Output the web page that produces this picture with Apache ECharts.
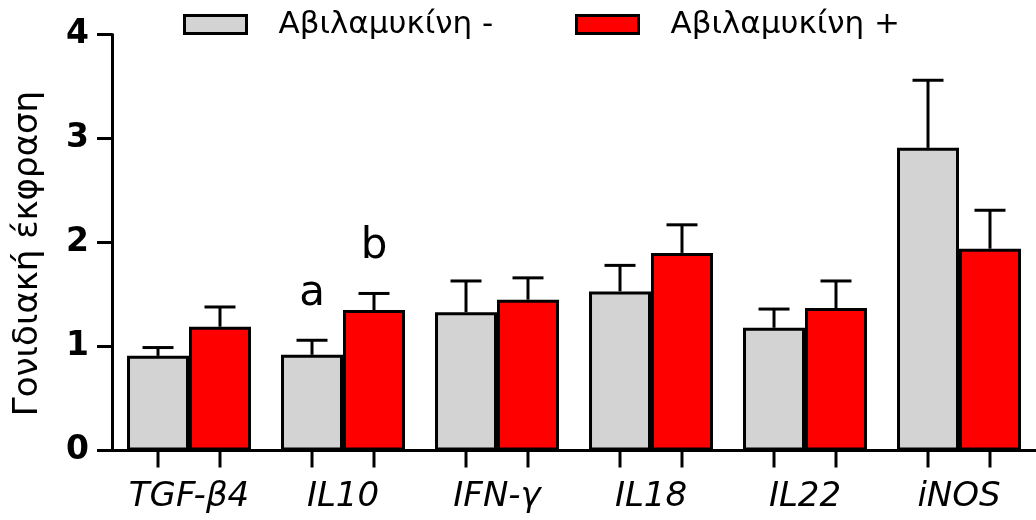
<!DOCTYPE html>
<html>
<head>
<meta charset="utf-8">
<script src="https://cdn.jsdelivr.net/npm/echarts@6/dist/echarts.min.js"></script>
<style>
  html, body { margin: 0; padding: 0; background: #fff; }
  #chart { width: 1036px; height: 520px; }
</style>
</head>
<body>
<div id="chart"></div>
<script>
// Genes on the x axis
const categories = ['TGF-β4', 'IL10', 'IFN-γ', 'IL18', 'IL22', 'iNOS'];

// Relative expression without abylamycin (mean and upper error)
const withoutMean = [0.91, 0.92, 1.33, 1.53, 1.18, 2.91];
const withoutErr  = [0.08, 0.14, 0.30, 0.25, 0.18, 0.65];

// Relative expression with abylamycin (mean and upper error)
const withMean = [1.19, 1.35, 1.45, 1.90, 1.37, 1.94];
const withErr  = [0.19, 0.16, 0.21, 0.27, 0.26, 0.37];

// Significance letters above the error bars
const withoutLetters = ['', 'a', '', '', '', ''];
const withLetters    = ['', 'b', '', '', '', ''];

// Y axis ticks
const yMin = 0, yMax = 4, yStep = 1;

const seriesNames = ['Αβιλαμυκίνη -', 'Αβιλαμυκίνη +'];
const FONT = 'DejaVu Sans';
const GAP = 0.195;

function errorBars(means, errs, letters, side) {
  return {
    type: 'custom',
    silent: true,
    z: 5,
    data: means.map((m, i) => [i, m, m + errs[i]]),
    renderItem(params, api) {
      const cat = api.value(0);
      const band = api.size([1, 0])[0];
      const barW = band * (1 - GAP) / 2;
      const base = api.coord([cat, 0]);
      const x = base[0] + side * barW / 2;
      const yMean = api.coord([cat, api.value(1)])[1];
      const yHigh = api.coord([cat, api.value(2)])[1];
      const capW = barW * 0.5;
      const ls = { stroke: '#000', lineWidth: 3 };
      const children = [
        { type: 'line', shape: { x1: x, y1: yMean, x2: x, y2: yHigh }, style: ls },
        { type: 'line', shape: { x1: x - capW / 2, y1: yHigh, x2: x + capW / 2, y2: yHigh }, style: ls },
        { type: 'line', shape: { x1: x, y1: base[1], x2: x, y2: base[1] + 17 }, style: ls }
      ];
      const letter = letters[params.dataIndex];
      if (letter) {
        children.push({
          type: 'text',
          x: x,
          y: yHigh - 25,
          style: {
            text: letter,
            fill: '#000',
            font: '42px "' + FONT + '"',
            align: 'center',
            verticalAlign: 'bottom'
          }
        });
      }
      return { type: 'group', children };
    }
  };
}

const chart = echarts.init(document.getElementById('chart'), null, { renderer: 'canvas' });

const legendBase = {
  itemWidth: 62,
  itemHeight: 18,
  icon: 'rect',
  top: 9,
  padding: 0,
  selectedMode: false,
  itemStyle: { borderColor: '#000', borderWidth: 3 },
  textStyle: { fontFamily: FONT, fontSize: 31, color: '#000', padding: [0, 0, 0, 27] }
};

chart.setOption({
  animation: false,
  backgroundColor: '#fff',
  legend: [
    Object.assign({}, legendBase, { data: [seriesNames[0]], left: 183 }),
    Object.assign({}, legendBase, { data: [seriesNames[1]], left: 575 })
  ],
  grid: { left: 112, top: 34.5, width: 924, height: 416, containLabel: false, outerBoundsMode: 'none' },
  xAxis: {
    type: 'category',
    data: categories,
    boundaryGap: true,
    axisLine: { lineStyle: { color: '#000', width: 3 } },
    axisTick: { show: false },
    axisLabel: {
      fontFamily: FONT,
      fontSize: 34,
      fontStyle: 'italic',
      color: '#000',
      margin: 30,
      interval: 0
    }
  },
  yAxis: {
    type: 'value',
    min: yMin,
    max: yMax,
    interval: yStep,
    name: 'Γονιδιακή έκφραση',
    nameLocation: 'middle',
    nameGap: 67,
    nameTextStyle: { fontFamily: FONT, fontSize: 34, color: '#000', padding: [0, 22, 0, 0] },
    splitLine: { show: false },
    axisLine: { show: true, lineStyle: { color: '#000', width: 3 } },
    axisTick: { show: true, length: 15, lineStyle: { color: '#000', width: 3 } },
    axisLabel: { fontFamily: FONT, fontSize: 33, fontWeight: 'bold', color: '#000', margin: 23 }
  },
  series: [
    {
      name: seriesNames[0],
      type: 'bar',
      data: withoutMean,
      barGap: '0%',
      barCategoryGap: (GAP * 100) + '%',
      itemStyle: { color: '#d3d3d3', borderColor: '#000', borderWidth: 3 }
    },
    {
      name: seriesNames[1],
      type: 'bar',
      data: withMean,
      barGap: '0%',
      barCategoryGap: (GAP * 100) + '%',
      itemStyle: { color: '#ff0000', borderColor: '#000', borderWidth: 3 }
    },
    errorBars(withoutMean, withoutErr, withoutLetters, -1),
    errorBars(withMean, withErr, withLetters, 1)
  ]
});
</script>
</body>
</html>
